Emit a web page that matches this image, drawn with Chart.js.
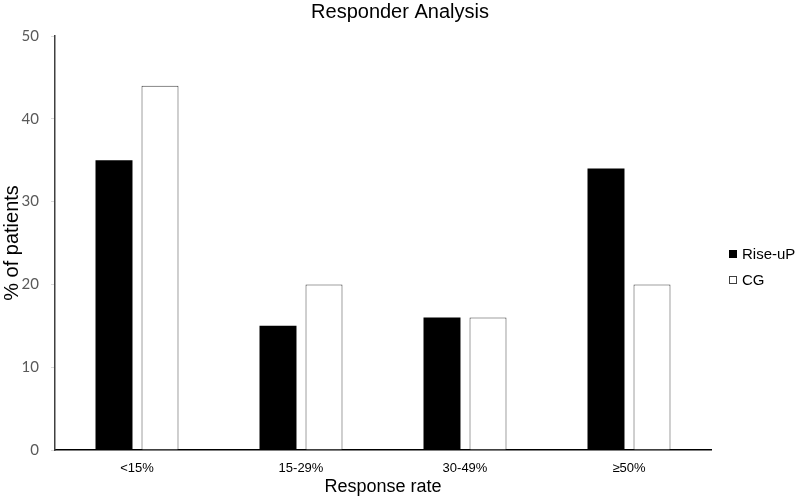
<!DOCTYPE html>
<html>
<head>
<meta charset="utf-8">
<script src="https://cdn.jsdelivr.net/npm/chart.js@4/dist/chart.umd.min.js"></script>
<style>
  html, body { margin: 0; padding: 0; background: #ffffff; }
  #wrap { width: 800px; height: 501px; position: relative; }
</style>
</head>
<body>
<div id="wrap"><canvas id="c" width="800" height="501"></canvas></div>
<script>
const categories = ['<15%', '15-29%', '30-49%', '\u226550%'];
const riseUpValues = [35, 15, 16, 34];
const cgValues = [44, 20, 16, 20];
const seriesNames = ['Rise-uP', 'CG'];
const chartTitle = 'Responder Analysis';
const xAxisTitle = 'Response rate';
const yAxisTitle = '% of patients';

const sans = "'Liberation Sans', Arial, sans-serif";

const decorPlugin = {
  id: 'decor',
  afterDraw(chart) {
    const ctx = chart.ctx;
    ctx.save();
    // title
    ctx.fillStyle = '#000';
    ctx.font = '20px ' + sans;
    ctx.textAlign = 'center';
    ctx.textBaseline = 'middle';
    ctx.fillText(chartTitle, 400, 12);
    // legend
    const items = [
      { label: seriesNames[0], fill: '#000000', stroke: '#000000', y: 254 },
      { label: seriesNames[1], fill: '#ffffff', stroke: '#404040', y: 280 }
    ];
    ctx.font = '15px ' + sans;
    ctx.textAlign = 'left';
    items.forEach(it => {
      ctx.fillStyle = it.fill;
      ctx.fillRect(729, it.y - 4, 8, 8);
      ctx.strokeStyle = it.stroke;
      ctx.lineWidth = 1;
      ctx.strokeRect(729.5, it.y - 3.5, 7, 7);
      ctx.fillStyle = '#000';
      ctx.fillText(it.label, 742, it.y + 1);
    });
    ctx.restore();
  }
};

new Chart(document.getElementById('c'), {
  type: 'bar',
  data: {
    labels: categories,
    datasets: [
      {
        label: seriesNames[0],
        data: riseUpValues,
        backgroundColor: '#000000',
        borderColor: '#000000',
        borderWidth: 0
      },
      {
        label: seriesNames[1],
        data: cgValues,
        backgroundColor: '#ffffff',
        borderColor: '#404040',
        borderWidth: 1
      }
    ]
  },
  options: {
    responsive: false,
    animation: false,
    devicePixelRatio: 1,
    layout: { padding: { left: 0, top: 36, right: 89, bottom: 0 } },
    plugins: {
      legend: { display: false },
      title: { display: false },
      tooltip: { enabled: false }
    },
    datasets: {
      bar: { categoryPercentage: 0.561, barPercentage: 0.804 }
    },
    scales: {
      x: {
        grid: { display: false, drawTicks: false },
        border: { display: true, color: '#000000', width: 1.5 },
        ticks: {
          color: '#000000',
          font: { family: sans, size: 13 },
          padding: 11,
          maxRotation: 0
        },
        title: {
          display: true,
          text: xAxisTitle,
          color: '#000000',
          font: { family: sans, size: 18 },
          padding: { top: 0, bottom: 3 }
        },
        afterFit(scale) { scale.height = 51; }
      },
      y: {
        min: 0,
        max: 50,
        grid: { display: true, drawOnChartArea: false, drawTicks: true, tickLength: 4, color: '#d9d9d9' },
        border: { display: true, color: '#404040', width: 1.5 },
        ticks: {
          stepSize: 10,
          color: '#595959',
          font: { family: "Lato, 'Open Sans', sans-serif", size: 15 },
          padding: 12
        },
        title: {
          display: true,
          text: yAxisTitle,
          color: '#000000',
          font: { family: sans, size: 20 },
          padding: { top: 0, bottom: 0 }
        },
        afterFit(scale) { scale.width = 55; }
      }
    }
  },
  plugins: [decorPlugin]
});
</script>
</body>
</html>
